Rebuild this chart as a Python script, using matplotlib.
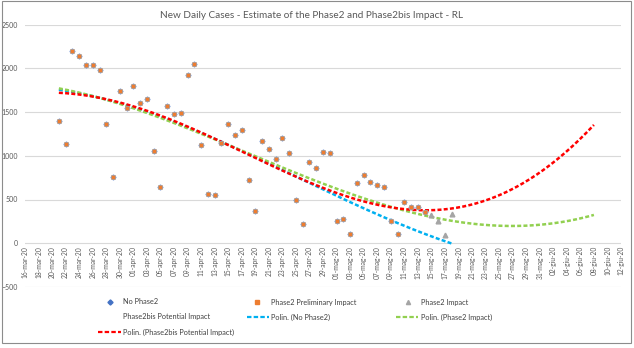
import numpy as np
import pandas as pd
import matplotlib
matplotlib.use("Agg")
import matplotlib.pyplot as plt
import matplotlib.dates as mdates
from matplotlib.lines import Line2D
from matplotlib.patches import Rectangle

plt.rcParams['font.family'] = ['Lato', 'DejaVu Sans']

# ---- data ----
axis_start = "2020-03-16"
axis_end = "2020-06-12"
month_names = {3: "mar", 4: "apr", 5: "mag", 6: "giu"}

prelim_start = "2020-03-21"
prelim_cases = [1400, 1140, 2200, 2145, 2035, 2035, 1975, 1365, 755, 1745,
                1545, 1800, 1600, 1645, 1055, 645, 1565, 1475, 1490, 1925,
                2045, 1120, 565, 550, 1145, 1365, 1240, 1300, 720, 370,
                1170, 1075, 965, 1200, 1030, 500, 220, 930, 865, 1045,
                1035, 255, 275, 110, 690, 775, 700, 665, 645, 255,
                110, 475, 415, 415, 360]

# "No Phase2" points sit under the orange squares
no_phase2_start = "2020-03-21"
no_phase2_cases = list(prelim_cases)

impact_start = "2020-05-15"
impact_cases = [325, 255, 100, 335]

# polynomial trendlines
trend_no_phase2_dates = ["2020-03-21", "2020-03-26", "2020-03-31", "2020-04-05", "2020-04-10",
                         "2020-04-15", "2020-04-20", "2020-04-25", "2020-04-30", "2020-05-05",
                         "2020-05-10", "2020-05-15", "2020-05-18"]
trend_no_phase2 = [1755, 1675, 1580, 1460, 1290, 1115, 935, 765, 590, 405, 225, 75, 0]

trend_dates = ["2020-03-21", "2020-03-26", "2020-03-31", "2020-04-05", "2020-04-10",
               "2020-04-15", "2020-04-20", "2020-04-25", "2020-04-30", "2020-05-05",
               "2020-05-10", "2020-05-15", "2020-05-20", "2020-05-25", "2020-05-30",
               "2020-06-04", "2020-06-08"]
trend_phase2 = [1773, 1670, 1575, 1450, 1275, 1120, 950, 800, 665, 520,
                400, 290, 228, 207, 205, 250, 325]
trend_phase2bis = [1718, 1675, 1595, 1465, 1290, 1115, 935, 770, 610, 480,
                   400, 380, 415, 535, 770, 1060, 1345]

title = "New Daily Cases - Estimate of the Phase2 and Phase2bis Impact - RL"

# ---- figure ----
W, H = 634, 348
fig = plt.figure(figsize=(W / 100, H / 100), dpi=100)
ax = fig.add_axes([25 / W, 1 - 287 / H, (621 - 25) / W, (287 - 24.5) / H])

txt = '#595959'

# x axis crosses at 0, labels hang below it
ax.spines['bottom'].set_position(('data', 0))
for s in ax.spines.values():
    s.set_color('none')


def trend(ax, dates, vals, deg, color):
    x = mdates.date2num(pd.to_datetime(dates))
    x0 = x[0]
    coefs = np.polyfit(x - x0, vals, deg)
    xs = np.linspace(x[0], x[-1], 300)
    ax.plot(xs, np.polyval(coefs, xs - x0), color=color, lw=1.8,
            ls=(0, (1.6, 0.9)), zorder=3)


trend(ax, trend_no_phase2_dates, trend_no_phase2, 3, '#00B0F0')
trend(ax, trend_dates, trend_phase2, 4, '#92D050')
trend(ax, trend_dates, trend_phase2bis, 5, '#FF0000')

ax.plot(pd.date_range(no_phase2_start, periods=len(no_phase2_cases)), no_phase2_cases,
        ls='none', marker='D', ms=2.4, color='#4472C4', zorder=4)
ax.plot(pd.date_range(prelim_start, periods=len(prelim_cases)), prelim_cases,
        ls='none', marker='s', ms=2.9, mfc='#ED7D31', mec='#B4A59A', mew=0.5, zorder=5)
ax.plot(pd.date_range(impact_start, periods=len(impact_cases)), impact_cases,
        ls='none', marker='^', ms=3.4, color='#A5A5A5', zorder=5)

# axes
tick_dates = pd.date_range(axis_start, axis_end, freq='2D')
ax.set_xticks(mdates.date2num(tick_dates))
ax.set_xticklabels([f"{d.day:02d}-{month_names[d.month]}-20" for d in tick_dates])
ax.tick_params(axis='x', length=0, pad=2, labelrotation=90, labelsize=4.8, labelcolor=txt)
ax.set_xlim(mdates.date2num(pd.Timestamp(axis_start)), mdates.date2num(pd.Timestamp(axis_end)))
ax.set_ylim(-500, 2500)
ax.set_yticks(range(-500, 2501, 500))
ax.tick_params(axis='y', labelsize=5, labelcolor=txt, length=0, pad=5)
ax.grid(axis='y', color='#D9D9D9', lw=0.8)
ax.set_axisbelow(True)

fig.text(311 / W, 1 - 15 / H, title, ha='center', va='center', fontsize=7.2, color=txt)


# legend, laid out like the Excel one (3 per row)
def fx(px):
    return px / W


def fy(py):
    return 1 - py / H


def leg_marker(x, y, marker, color, ms):
    fig.add_artist(Line2D([fx(x)], [fy(y)], marker=marker, ms=ms, color=color,
                          ls='none', transform=fig.transFigure))


def leg_line(x0, x1, y, color):
    fig.add_artist(Line2D([fx(x0), fx(x1)], [fy(y), fy(y)], color=color, lw=1.6,
                          ls=(0, (2, 1)), transform=fig.transFigure))


def leg_text(x, y, s):
    fig.text(fx(x), fy(y), s, ha='left', va='center', fontsize=5.3, color='#404040')


leg_marker(110, 302, 'D', '#4472C4', 2.6)
leg_text(123, 302, "No Phase2")
leg_marker(257, 302, 's', '#ED7D31', 2.6)
leg_text(271, 302, "Phase2 Preliminary Impact")
leg_marker(408, 302, '^', '#A5A5A5', 3)
leg_text(421, 302, "Phase2 Impact")

leg_text(123, 317, "Phase2bis Potential Impact")
leg_line(247, 269, 317, '#00B0F0')
leg_text(271, 317, "Polin. (No Phase2)")
leg_line(396, 418, 317, '#92D050')
leg_text(421, 317, "Polin. (Phase2 Impact)")

leg_line(98, 121, 332, '#FF0000')
leg_text(123, 332, "Polin. (Phase2bis Potential Impact)")

# chart frame
fig.add_artist(Rectangle((fx(1.5), fy(343)), (631 - 1.5) / W, (343 - 1) / H,
                         transform=fig.transFigure, fill=False, ec='#8C8C8C', lw=0.8))

fig.savefig("out.png", dpi=100)
